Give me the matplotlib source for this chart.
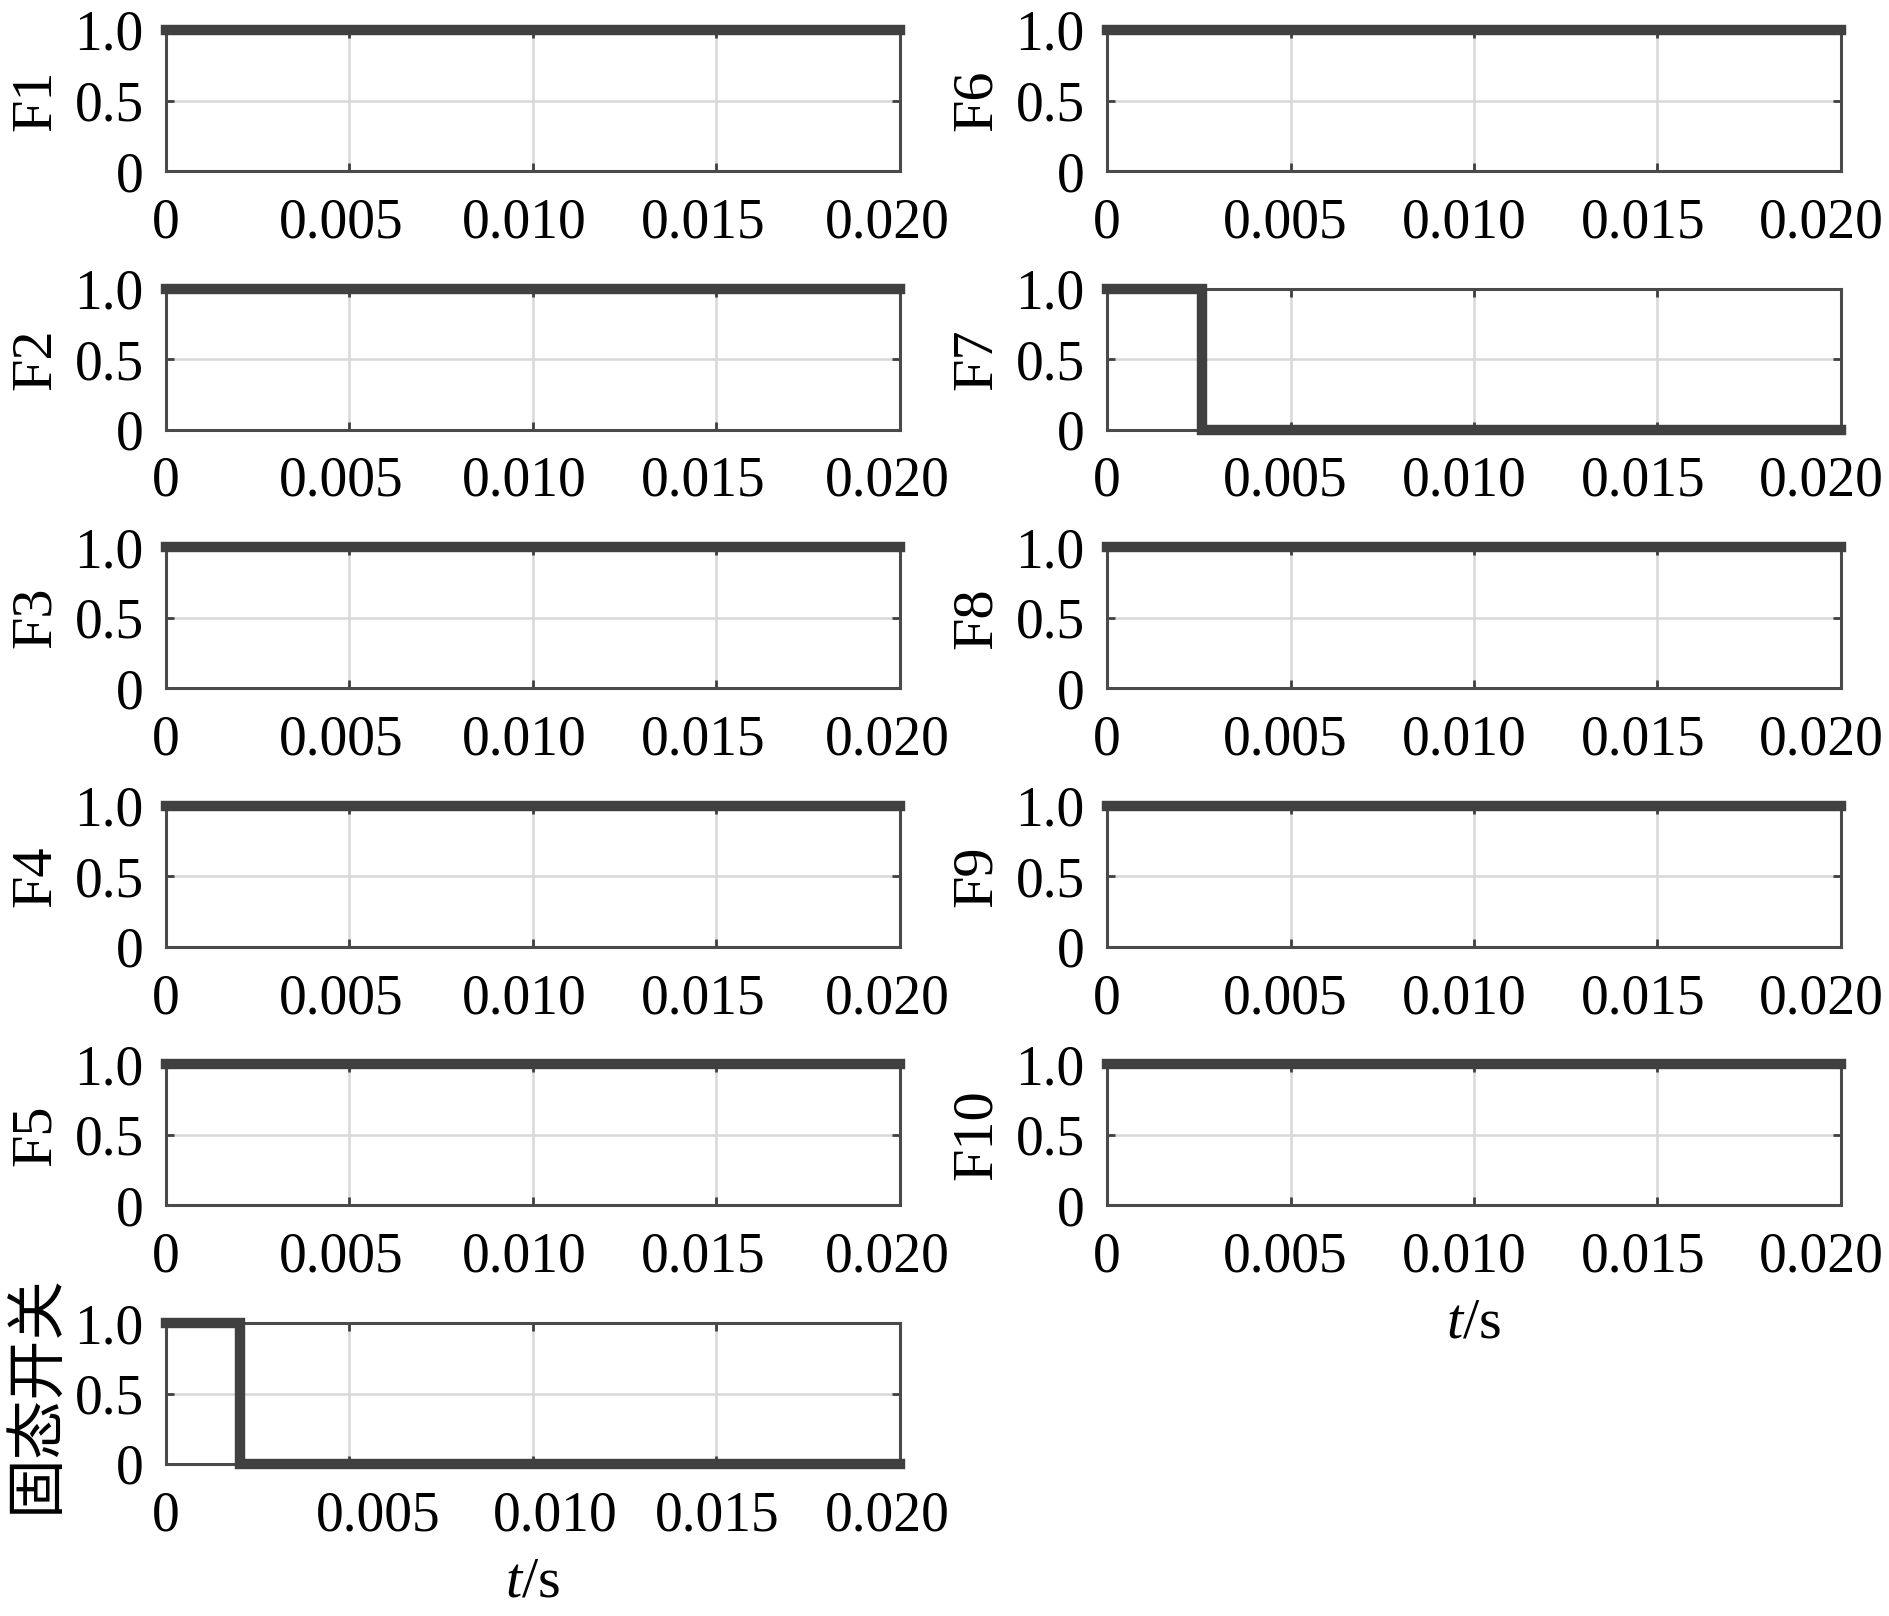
import numpy as np
import matplotlib.pyplot as plt
from matplotlib.transforms import ScaledTranslation

plt.rcParams['font.family'] = ['Liberation Serif', 'DejaVu Sans']
plt.rcParams['mathtext.fontset'] = 'custom'
plt.rcParams['mathtext.rm'] = 'Liberation Serif'
plt.rcParams['mathtext.it'] = 'Liberation Serif:italic'

# step signals: times where value changes (step 'post') and values
left_names = ['F1', 'F2', 'F3', 'F4', 'F5', '固态开关']
right_names = ['F6', 'F7', 'F8', 'F9', 'F10']

t_const = [0.0, 0.02]
v_const = [1, 1]
t_f7 = [0.0, 0.0026, 0.02]
v_f7 = [1, 0, 0]
t_sw = [0.0, 0.00202, 0.02]
v_sw = [1, 0, 0]

signals = {name: (t_const, v_const) for name in left_names[:5] + right_names}
signals['F7'] = (t_f7, v_f7)
signals['固态开关'] = (t_sw, v_sw)

xticks = [0, 0.005, 0.010, 0.015, 0.020]
xtick_labels = ['0', '0.005', '0.010', '0.015', '0.020']
yticks = [0, 0.5, 1.0]
ytick_labels = ['0', '0.5', '1.0']

W, H = 1890, 1616
fig = plt.figure(figsize=(W / 100, H / 100), dpi=100)

line_col = '#404040'
ax_w = 734 / W
ax_h = 141 / H
row_step = 258.6

# small horizontal nudges of the x tick labels (pixels), as in the source figure
shift_left = [0, -8, -9, -13, -13]
shift_right = [0, -5, -10, -14, -20]
shift_bottom = [0, 29, 22, 1, -13]


def make_axes(left_px, row, name, shifts, last=False):
    top = 30 + row * row_step
    ax = fig.add_axes([left_px / W, 1 - (top + 141) / H, ax_w, ax_h])
    t, v = signals[name]
    ax.step(t, v, where='post', color=line_col, lw=7.5, clip_on=False,
            solid_joinstyle='miter', zorder=5)
    ax.set_xlim(0, 0.02)
    ax.set_ylim(0, 1)
    ax.set_xticks(xticks)
    ax.set_xticklabels(xtick_labels)
    ax.set_yticks(yticks)
    ax.set_yticklabels(ytick_labels)
    ax.grid(True, color='#d8d8d8', lw=1.8)
    ax.set_axisbelow(True)
    ax.tick_params(direction='in', length=6, width=2, color=line_col,
                   top=True, right=True, labelsize=40)
    ax.tick_params(axis='y', pad=16)
    ax.tick_params(axis='x', pad=19)
    for lbl, dx in zip(ax.get_xticklabels(), shifts):
        lbl.set_transform(lbl.get_transform() +
                          ScaledTranslation(dx / 100, 0, fig.dpi_scale_trans))
    for s in ax.spines.values():
        s.set_color('#4a4a4a')
        s.set_linewidth(2.2)
    if name == '固态开关':
        ax.set_ylabel(name, fontsize=43, family=['Noto Sans CJK SC', 'DejaVu Sans'])
    else:
        ax.set_ylabel(name, fontsize=42)
    ax.yaxis.label.set_va('center')
    ax.yaxis.set_label_coords(-0.177, 0.5)
    if last:
        ax.set_xlabel(r'$t$/s', fontsize=42)
        ax.xaxis.label.set_va('center')
        ax.xaxis.set_label_coords(0.5, -0.84)
    return ax


for i, name in enumerate(left_names):
    last = i == len(left_names) - 1
    make_axes(166, i, name, shift_bottom if last else shift_left, last=last)
for i, name in enumerate(right_names):
    make_axes(1107, i, name, shift_right, last=(i == len(right_names) - 1))

fig.savefig('out.png', dpi=100)
